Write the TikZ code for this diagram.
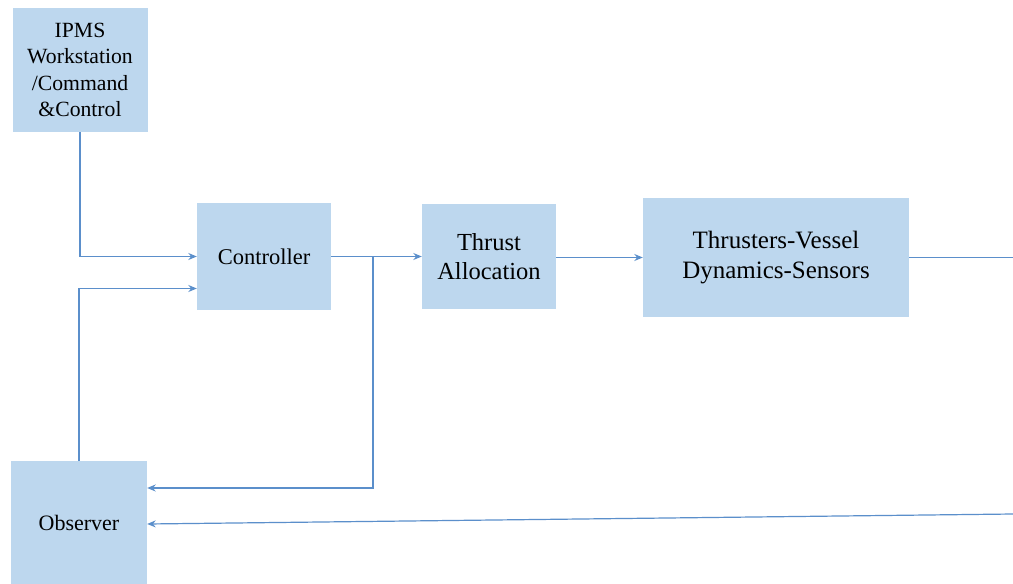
\documentclass[tikz,border=0pt]{standalone}
\usepackage{fontspec}
\setmainfont{Liberation Serif}
\usetikzlibrary{arrows.meta,calc}
\definecolor{boxfill}{HTML}{BDD7EE}
\definecolor{wire}{HTML}{5B8FCB}
\tikzset{
  block/.style={rectangle, fill=boxfill, draw=none, align=center, inner sep=0pt, text=black},
  link/.style={draw=wire, line width=1.2pt},
  feed/.style={link, -{Stealth[length=8.5pt,width=7pt]}},
}
\begin{document}
\begin{tikzpicture}[x=1pt,y=-1pt]
\useasboundingbox[fill=white] (0,0) rectangle (1013,584);

% blocks
\node[block, minimum width=135pt, minimum height=124pt,
      font=\fontsize{21.7}{26.5}\selectfont] (ipms) at (80,70)
  {IPMS\\Workstation\\/Command\\\&Control};
\node[block, minimum width=134pt, minimum height=107pt,
      font=\fontsize{22.5}{27}\selectfont] (ctrl) at (264,256.5) {Controller};
\node[block, minimum width=134pt, minimum height=105pt,
      font=\fontsize{24.5}{28.5}\selectfont] (alloc) at (489,256.5) {Thrust\\Allocation};
\node[block, minimum width=266pt, minimum height=119pt,
      font=\fontsize{25}{30}\selectfont] (plant) at (776,257.5) {Thrusters-Vessel\\Dynamics-Sensors};
\node[block, minimum width=136pt, minimum height=123pt,
      font=\fontsize{22}{26}\selectfont] (obs) at (79,522.5) {Observer};

% free ends at the right border and the branch point
\coordinate (outR) at (1013,257.5);
\coordinate (inR) at (1013,514);
\coordinate (br) at (373,256);

% connectors
\draw[feed] (ipms.south) |- (ctrl.west);
\draw[feed] (obs.north) |- ($(ctrl.west)+(0,32)$);
\draw[feed] (ctrl.east) -- (ctrl.east -| alloc.west);
\draw[feed] (br) |- ($(obs.east)+(0,-34.5)$);
\draw[feed] (alloc.east |- plant.west) -- (plant.west);
\draw[link] (plant.east) -- (outR);
\draw[feed] (inR) -- ($(obs.east)+(0,1.5)$);
\end{tikzpicture}
\end{document}
